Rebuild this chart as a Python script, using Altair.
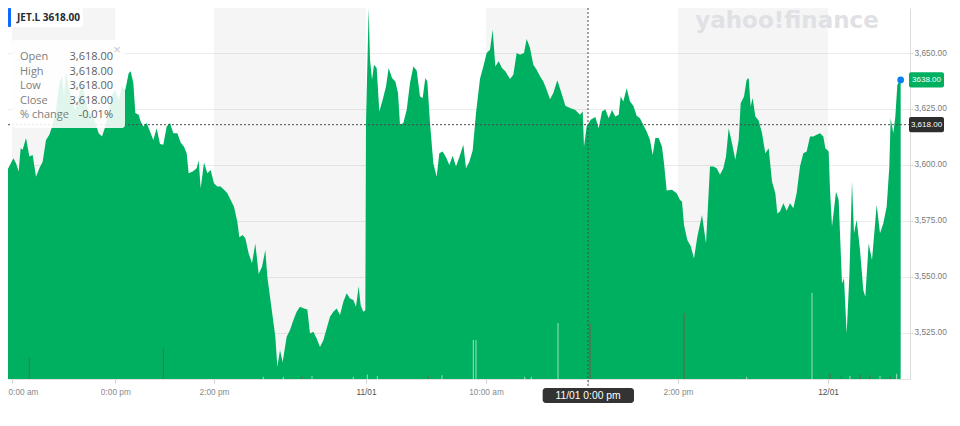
import altair as alt
import pandas as pd

# ---------------- data ----------------
BAR = [0, 4, 8, 11, 15, 20, 24, 28, 31, 34, 39, 44, 49, 54, 59, 64, 69, 74, 79, 84,
       89, 93, 96, 99, 103, 108, 113, 118, 123, 128, 133, 138, 143, 148, 153, 158, 163, 168, 173, 178,
       183, 188, 193, 196, 200, 203, 208, 211, 215, 220, 225, 230, 235, 240, 245, 250, 255, 260, 266, 271,
       276, 280, 283, 289, 295, 298, 301, 306, 311, 316, 321, 326, 331, 336, 341, 346, 351, 356, 359, 364,
       368, 373, 378, 383, 388, 393, 398, 401, 405, 409, 413, 416, 420, 424, 430, 435, 440, 445, 450, 456,
       461, 465, 470, 475, 480, 485, 490, 495, 500, 505, 510, 515, 520, 525, 530, 534, 538, 541, 545, 548,
       549, 553, 555, 558, 561, 565, 569, 574, 579, 583, 588, 593, 597, 600, 605, 610, 615, 620, 625, 630,
       634, 638, 641, 645, 650, 655, 659, 664, 669, 674, 679, 684, 689, 695, 699, 704, 709, 714, 720,
       725, 730, 735, 739, 743, 748, 753, 758, 765, 770, 775, 780, 786, 790, 795, 800, 805, 810, 815, 820,
       825, 830, 836, 843, 848, 855, 863, 870, 874, 876, 880, 886, 893, 898, 903, 908, 913, 918, 923, 928,
       931, 935, 940, 945, 950, 955, 960, 965, 970, 975, 979, 983, 988, 993, 996, 1000, 1008, 1015, 1020, 1023,
       1026, 1031, 1036, 1041, 1046, 1053, 1059, 1065, 1070, 1075, 1080, 1085, 1089, 1093, 1098, 1103, 1108, 1111, 1116, 1120,
       1123, 1126, 1129, 1133, 1138, 1143, 1148, 1153, 1158, 1163, 1166, 1170, 1175, 1180, 1185, 1190, 1195, 1200, 1205, 1210,
       1215, 1220, 1225, 1230, 1235, 1238, 1243, 1245, 1248, 1254, 1258, 1263, 1266, 1270, 1274, 1278, 1281, 1285, 1290, 1295,
       1298, 1303, 1308, 1315, 1320, 1325, 1330, 1334, 1336, 1340, 1343, 1346, 1351]

PRICE = [3615.7, 3616.4, 3611.2, 3597.8, 3600.0, 3603.0, 3600.8, 3597.1, 3607.5, 3606.8, 3612.0, 3603.8, 3604.5, 3594.8, 3598.6, 3601.5, 3611.2, 3613.5, 3617.9, 3624.6,
         3636.6, 3639.6, 3630.6, 3641.8, 3635.1, 3629.1, 3624.6, 3630.6, 3636.6, 3629.1, 3623.9, 3622.4, 3618.7, 3614.2, 3612.7, 3617.2, 3624.6, 3631.4, 3633.6, 3629.1,
         3635.1, 3633.6, 3641.0, 3641.8, 3636.6, 3623.2, 3622.4, 3619.4, 3617.2, 3618.7, 3615.0, 3611.2, 3616.4, 3609.4, 3609.0, 3617.2, 3618.7, 3614.2, 3614.2, 3610.0,
         3608.2, 3605.3, 3596.3, 3597.1, 3598.6, 3602.0, 3589.6, 3601.1, 3596.3, 3597.8, 3591.9, 3590.4, 3590.4, 3588.9, 3587.4, 3584.4, 3581.4, 3574.7, 3567.7, 3568.7,
         3567.3, 3560.5, 3556.1, 3565.0, 3551.3, 3554.6, 3562.0, 3550.1, 3541.2, 3532.2, 3523.3, 3509.9, 3517.3, 3512.1, 3523.3, 3526.3, 3530.7, 3534.5, 3536.7, 3535.9,
         3535.5, 3524.8, 3525.5, 3522.5, 3518.8, 3521.8, 3527.0, 3532.2, 3534.5, 3535.9, 3533.0, 3538.9, 3542.7, 3540.4, 3539.7, 3536.7, 3545.9, 3537.4, 3534.5, 3535.2,
         3618.7, 3670.1, 3647.0, 3638.1, 3644.8, 3643.3, 3623.9, 3629.1, 3635.1, 3643.3, 3638.8, 3637.3, 3632.1, 3617.9, 3618.7, 3624.6, 3636.6, 3644.0, 3642.2, 3630.6,
         3629.9, 3638.8, 3637.3, 3618.7, 3600.8, 3594.8, 3605.3, 3606.0, 3603.5, 3600.0, 3604.1, 3599.3, 3603.5, 3609.0, 3598.6, 3601.5, 3606.5, 3623.2, 3638.5,
         3644.0, 3650.0, 3651.5, 3660.4, 3644.0, 3646.3, 3643.3, 3641.8, 3638.4, 3640.3, 3650.0, 3649.2, 3650.0, 3656.3, 3652.2, 3644.8, 3642.5, 3639.6, 3637.3, 3633.6,
         3629.4, 3632.1, 3637.8, 3631.4, 3626.4, 3625.4, 3624.6, 3622.4, 3623.9, 3608.2, 3617.2, 3620.2, 3621.4, 3616.4, 3623.9, 3624.9, 3620.9, 3624.6, 3621.7, 3622.4,
         3630.6, 3628.4, 3634.3, 3628.4, 3626.4, 3622.0, 3620.9, 3617.9, 3615.0, 3611.2, 3604.5, 3612.0, 3612.0, 3608.2, 3600.8, 3588.6, 3588.9, 3587.4, 3584.4, 3583.7,
         3573.2, 3566.5, 3563.8, 3558.3, 3568.0, 3577.7, 3565.0, 3599.3, 3599.3, 3598.6, 3595.6, 3598.6, 3603.8, 3616.4, 3609.7, 3602.3, 3611.2, 3627.6, 3630.6, 3638.1,
         3638.8, 3626.1, 3629.9, 3621.7, 3619.9, 3614.2, 3605.3, 3607.5, 3592.6, 3587.4, 3578.4, 3579.2, 3582.9, 3579.6, 3582.9, 3580.7, 3587.4, 3599.3, 3605.3, 3606.0,
         3612.7, 3612.7, 3613.5, 3614.2, 3612.7, 3607.5, 3606.0, 3588.9, 3572.5, 3588.1, 3584.4, 3547.1, 3549.4, 3524.8, 3550.1, 3592.6, 3569.5, 3575.4, 3562.0, 3544.1,
         3541.2, 3565.0, 3557.6, 3582.2, 3569.5, 3574.0, 3581.4, 3599.3, 3620.9, 3614.2, 3621.7, 3635.8, 3638.0]

VOL_BAR = [44, 245, 395, 425, 453, 468, 530, 551, 566, 642, 663, 710, 714,
           787, 797, 837, 885, 1026, 1120, 1218, 1245, 1262, 1275, 1290, 1305, 1320, 1335, 1345]
VOL = [2800, 4200, 300, 300, 350, 400, 300, 600, 400, 400, 500, 5260, 5260,
       300, 300, 7550, 7550, 8900, 300, 11600, 700, 500, 400, 600, 500, 400, 400, 700]
VOL_DIR = ["down", "down", "up", "up", "down", "up", "up", "up", "up", "down", "up", "up", "up",
           "up", "up", "up", "down", "down", "up", "up", "down", "down", "up", "down", "down", "up", "down", "up"]
VOL_MAX = 50000  # volume that would fill the full plot height

TICK_VALUES = [18, 173, 321, 549, 729, 882, 1017, 1242]
# the label under the crosshair is hidden by the crosshair's time box
TICK_LABELS = ["0:00 am", "0:00 pm", "2:00 pm", "11/01", "10:00 am", "", "2:00 pm", "12/01"]
DATE_TICKS = [549, 1242]

BAND_START = [18, 321, 729, 1017]
BAND_END = [173, 549, 882, 1242]

Y_TICKS = [3525, 3550, 3575, 3600, 3625, 3650]
Y_MIN, Y_MAX = 3504.46, 3670.09

SYMBOL = "JET.L"
LAST_TEXT = "3618.00"
LAST_PRICE = 3638.0
CROSS_PRICE = 3618.0
CROSS_BAR = 882
CROSS_TIME = "11/01 0:00 pm"
OHLC_LABELS = ["Open", "High", "Low", "Close", "% change"]
OHLC_VALUES = ["3,618.00", "3,618.00", "3,618.00", "3,618.00", "-0.01%"]

# ---------------- styling ----------------
W, H = 902, 371
GREEN = "#00b061"
AXIS_FONT = "Liberation Sans"
UI_FONT = "Open Sans"

XS = alt.Scale(domain=[12, 1365], nice=False, zero=False)
YS = alt.Scale(domain=[Y_MIN, Y_MAX], nice=False, zero=False)

df = pd.DataFrame({"bar": BAR, "price": PRICE})
bands = pd.DataFrame({"start": BAND_START, "end": BAND_END})
vol = pd.DataFrame({"bar": VOL_BAR, "vol": VOL, "dir": VOL_DIR})
one = pd.DataFrame({"a": [0]})

label_expr = " : ".join(f"datum.value == {v} ? '{l}'" for v, l in zip(TICK_VALUES, TICK_LABELS)) + " : ''"
date_test = " || ".join(f"datum.value == {v}" for v in DATE_TICKS)

XA = alt.Axis(
    values=TICK_VALUES, labelExpr=label_expr, title=None, grid=False,
    domainColor="#e2e2e2", tickColor="#cfcfcf", tickSize=4,
    labelFont=AXIS_FONT, labelFontSize=8.3, labelPadding=4,
    labelColor=alt.condition(date_test, alt.value("#505050"), alt.value("#8a8a8a")),
    labelFlush=10, labelFlushOffset=4, labelOverlap=False,
)
YA = alt.Axis(
    orient="right", values=Y_TICKS, format=",.2f", title=None,
    grid=True, gridColor="#ececec", domainColor="#dcdcdc",
    tickColor="#d0d0d0", tickSize=3, labelPadding=1,
    labelFont=AXIS_FONT, labelFontSize=8.3, labelColor="#7a7a7a",
)

base = alt.Chart(one)


def xdat(v):
    return alt.XDatum(v, scale=XS, axis=XA)


def ydat(v):
    return alt.YDatum(v, scale=YS, axis=YA)


band_layer = alt.Chart(bands).mark_rect(color="#000000", opacity=0.04).encode(
    x=alt.X("start:Q", scale=XS, axis=XA), x2="end:Q",
    y=alt.value(0), y2=alt.value(H),
)
area_layer = alt.Chart(df).mark_area(color=GREEN, clip=True, interpolate="linear").encode(
    x=alt.X("bar:Q", scale=XS, axis=XA),
    y=alt.Y("price:Q", scale=YS, axis=YA),
)

# volume bars share the price axis: their height is a fraction of the plot height
vol_layer = alt.Chart(vol).transform_calculate(
    top=f"{Y_MIN} + datum.vol / {VOL_MAX} * ({Y_MAX} - {Y_MIN})"
).mark_rule(strokeWidth=1).encode(
    x=alt.X("bar:Q", scale=XS, axis=XA),
    y=alt.Y("top:Q", scale=YS, axis=YA),
    y2=alt.datum(Y_MIN),
    color=alt.Color("dir:N", scale=alt.Scale(domain=["up", "down"],
                    range=["rgba(255,255,255,0.6)", "rgba(190,40,40,0.6)"]), legend=None),
)

hline = base.mark_rule(color="#4a4a4a", strokeDash=[2, 2], strokeWidth=1).encode(
    y=ydat(CROSS_PRICE), x=alt.value(0), x2=alt.value(W))
vline = base.mark_rule(color="#4a4a4a", strokeDash=[2, 2], strokeWidth=1).encode(
    x=xdat(CROSS_BAR), y=alt.value(0), y2=alt.value(380))

time_box = base.mark_rect(color="#333333", cornerRadius=3).encode(
    x=xdat(CROSS_BAR - 68), x2=alt.X2Datum(CROSS_BAR + 69),
    y=alt.value(380), y2=alt.value(395))
time_text = base.mark_text(color="white", font=AXIS_FONT, fontSize=10.3, baseline="middle").encode(
    x=xdat(CROSS_BAR), y=alt.value(387.8), text=alt.value(CROSS_TIME))

last_box = base.mark_rect(color=GREEN, cornerRadius=2).encode(
    x=alt.value(901), x2=alt.value(936), y=ydat(LAST_PRICE + 3.4), y2=alt.Y2Datum(LAST_PRICE - 3.4))
last_text = base.mark_text(color="white", font=AXIS_FONT, fontSize=8, baseline="middle").encode(
    x=alt.value(918.5), y=ydat(LAST_PRICE), text=alt.value(f"{LAST_PRICE:.2f}"))
cross_box = base.mark_rect(color="#2d2d2d", cornerRadius=2).encode(
    x=alt.value(901), x2=alt.value(936), y=ydat(CROSS_PRICE + 3.4), y2=alt.Y2Datum(CROSS_PRICE - 3.4))
cross_text = base.mark_text(color="white", font=AXIS_FONT, fontSize=8, baseline="middle").encode(
    x=alt.value(918.5), y=ydat(CROSS_PRICE), text=alt.value(f"{CROSS_PRICE:,.2f}"))

dot = alt.Chart(df.tail(1)).mark_circle(color="#0a7ff5", size=45, opacity=1).encode(
    x=alt.X("bar:Q", scale=XS, axis=XA), y=alt.Y("price:Q", scale=YS, axis=YA))

watermark = base.mark_text(color="#dfe1e5", font="DejaVu Sans", fontSize=23, fontWeight="bold",
                           baseline="alphabetic").encode(
    x=alt.value(779), y=alt.value(20), text=alt.value("yahoo!finance"))

sym_box = base.mark_rect(color="white", cornerRadius=2).encode(
    x=alt.value(0), x2=alt.value(75), y=alt.value(0), y2=alt.value(19))
sym_bar = base.mark_rect(color="#0f69ff", cornerRadius=1).encode(
    x=alt.value(0), x2=alt.value(3), y=alt.value(0), y2=alt.value(19))
sym_text = base.mark_text(color="#232a31", font=UI_FONT, fontSize=10, fontWeight="bold",
                          align="left", baseline="middle").encode(
    x=alt.value(9), y=alt.value(10), text=alt.value(f"{SYMBOL}  {LAST_TEXT}"))

tip_box = base.mark_rect(color="white", opacity=0.88, cornerRadius=3).encode(
    x=alt.value(4), x2=alt.value(117), y=alt.value(32), y2=alt.value(120))
tip_close = base.mark_text(color="#c8c8c8", font=AXIS_FONT, fontSize=13, baseline="middle").encode(
    x=alt.value(109), y=alt.value(42), text=alt.value("×"))
tip_rows = []
for i, (lab, val) in enumerate(zip(OHLC_LABELS, OHLC_VALUES)):
    yy = 49 + 14.5 * i
    tip_rows.append(base.mark_text(color="#7d7d7d", font=UI_FONT, fontSize=11, align="left",
                                   baseline="middle").encode(
        x=alt.value(12), y=alt.value(yy), text=alt.value(lab)))
    tip_rows.append(base.mark_text(color="#5f5f5f", font=UI_FONT, fontSize=11, align="right",
                                   baseline="middle").encode(
        x=alt.value(105), y=alt.value(yy), text=alt.value(val)))

chart = alt.layer(
    band_layer, watermark, area_layer, vol_layer,
    hline, vline, time_box, time_text, last_box, last_text, cross_box, cross_text, dot,
    sym_box, sym_bar, sym_text, tip_box, tip_close, *tip_rows,
).properties(
    width=W, height=H,
    autosize=alt.AutoSizeParams(type="none"),
    padding={"left": 0, "top": 0, "right": 42, "bottom": 30},
    background="white",
).configure_view(strokeWidth=0)

chart.save("out.html", embed_options={"renderer": "svg", "actions": False})
